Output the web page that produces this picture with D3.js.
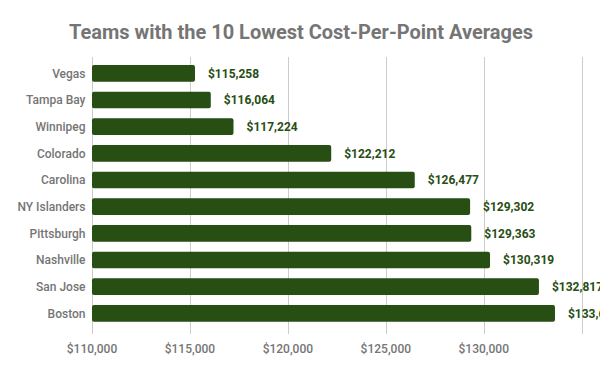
<!DOCTYPE html>
<html>
<head>
<meta charset="utf-8">
<script src="https://cdn.jsdelivr.net/npm/d3@7"></script>
<style>
  body { margin: 0; background: #fff; }
  svg { display: block; font-family: Roboto, "Noto Sans", sans-serif; }
</style>
</head>
<body>
<svg id="chart" width="600" height="371"></svg>
<script>
// 数据
const teams = ['Vegas', 'Tampa Bay', 'Winnipeg', 'Colorado', 'Carolina', 'NY Islanders', 'Pittsburgh', 'Nashville', 'San Jose', 'Boston'];
const costs = [115258, 116064, 117224, 122212, 126477, 129302, 129363, 130319, 132817, 133636];
const tickValues = [110000, 115000, 120000, 125000, 130000, 135000];

const width = 600;
const height = 371;
const barColor = '#274e13';
const grey = '#757575';

let svg = d3.select('#chart');

let x = d3.scaleLinear().domain([110000, 135000]).range([92, 581.7]);
let y = d3.scaleBand().domain(teams).range([60, 326.7]).paddingInner(0.375).paddingOuter(0.1875);

const money = d => '$' + d3.format(',')(d);

// 标题
svg.append('text')
  .attr('x', 301)
  .attr('y', 39)
  .attr('text-anchor', 'middle')
  .attr('fill', grey)
  .attr('font-weight', 'bold')
  .style('font-size', '20px')
  .text('Teams with the 10 Lowest Cost-Per-Point Averages');

// 网格线
svg.append('g').selectAll('line').data(tickValues).join('line')
  .attr('x1', d => Math.round(x(d)) + 0.5)
  .attr('x2', d => Math.round(x(d)) + 0.5)
  .attr('y1', 57)
  .attr('y2', 334)
  .attr('stroke', '#cccccc')
  .attr('stroke-width', 1);

// x轴标签
svg.append('g').selectAll('text').data(tickValues.slice(0, 5)).join('text')
  .attr('x', d => x(d))
  .attr('y', 353)
  .attr('text-anchor', 'middle')
  .attr('fill', grey)
  .attr('font-weight', 500)
  .style('font-size', '12px')
  .text(d => money(d));

// 柱子
svg.append('g').selectAll('rect').data(teams).join('rect')
  .attr('x', x(110000))
  .attr('y', d => y(d))
  .attr('width', (d, i) => x(costs[i]) - x(110000))
  .attr('height', y.bandwidth())
  .attr('rx', 2)
  .attr('fill', barColor);

// 类别标签
svg.append('g').selectAll('text').data(teams).join('text')
  .attr('x', 85.5)
  .attr('y', d => y(d) + y.bandwidth() / 2)
  .attr('dy', '0.35em')
  .attr('text-anchor', 'end')
  .attr('fill', grey)
  .attr('font-weight', 500)
  .style('font-size', '12px')
  .text(d => d);

// 数值标签
svg.append('g').selectAll('text').data(teams).join('text')
  .attr('x', (d, i) => x(costs[i]) + 13)
  .attr('y', d => y(d) + y.bandwidth() / 2)
  .attr('dy', '0.35em')
  .attr('fill', barColor)
  .attr('font-weight', 'bold')
  .style('font-size', '12px')
  .text((d, i) => money(costs[i]));
</script>
</body>
</html>
